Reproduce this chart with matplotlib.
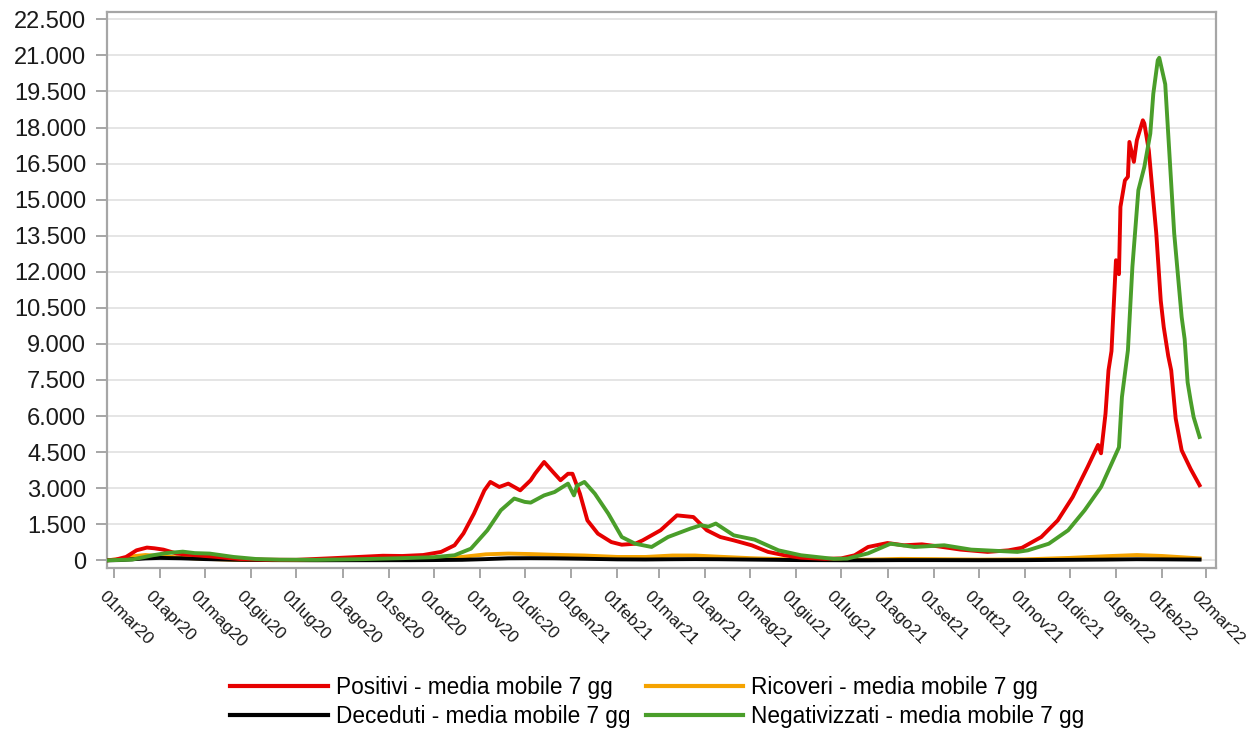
import matplotlib
matplotlib.use("Agg")
import matplotlib.pyplot as plt
import matplotlib.ticker as mticker
from matplotlib.lines import Line2D
from matplotlib.transforms import ScaledTranslation
import pandas as pd

# Positivi - media mobile 7 gg
date_positivi = [
    "2020-02-25", "2020-03-02", "2020-03-09", "2020-03-16", "2020-03-23", "2020-03-28",
    "2020-04-03", "2020-04-12", "2020-04-20", "2020-04-27", "2020-05-09", "2020-05-24",
    "2020-06-10", "2020-07-01", "2020-07-26", "2020-08-15", "2020-08-28", "2020-09-10",
    "2020-09-24", "2020-10-06", "2020-10-15", "2020-10-21", "2020-10-28", "2020-11-04",
    "2020-11-08", "2020-11-14", "2020-11-20", "2020-11-28", "2020-12-05", "2020-12-08",
    "2020-12-14", "2020-12-20", "2020-12-25", "2020-12-30", "2021-01-02", "2021-01-07",
    "2021-01-12", "2021-01-19", "2021-01-28", "2021-02-04", "2021-02-13", "2021-02-18",
    "2021-03-02", "2021-03-13", "2021-03-24", "2021-04-02", "2021-04-11", "2021-04-20",
    "2021-05-02", "2021-05-13", "2021-05-24", "2021-06-04", "2021-06-20", "2021-07-01",
    "2021-07-10", "2021-07-19", "2021-08-01", "2021-08-12", "2021-08-24", "2021-09-04",
    "2021-09-19", "2021-10-07", "2021-10-21", "2021-10-30", "2021-11-12", "2021-11-23",
    "2021-12-03", "2021-12-13", "2021-12-20", "2021-12-22", "2021-12-25", "2021-12-27",
    "2021-12-29", "2022-01-01", "2022-01-03", "2022-01-04", "2022-01-07", "2022-01-09",
    "2022-01-10", "2022-01-13", "2022-01-15", "2022-01-19", "2022-01-20", "2022-01-23",
    "2022-01-26", "2022-01-28", "2022-01-31", "2022-02-02", "2022-02-05", "2022-02-07",
    "2022-02-10", "2022-02-14", "2022-02-20", "2022-02-26",
]
positivi = [
    0, 30, 140, 415, 530, 500,
    445, 280, 230, 200, 140, 55,
    25, 20, 90, 150, 190, 180,
    220, 350, 625, 1120, 1940, 2910,
    3260, 3050, 3190, 2910, 3330, 3610,
    4090, 3670, 3330, 3600, 3600, 2770,
    1660, 1110, 760, 650, 690, 830,
    1250, 1870, 1800, 1250, 970, 830,
    625, 350, 210, 110, 60, 80,
    210, 555, 720, 625, 665, 580,
    445, 350, 415, 520, 970, 1660,
    2630, 3880, 4800, 4450, 6100, 7900,
    8700, 12480, 11900, 14700, 15800, 15950,
    17400, 16570, 17470, 18300, 18170, 17050,
    14970, 13600, 10800, 9700, 8500, 7900,
    5900, 4575, 3800, 3120,
]

# Negativizzati - media mobile 7 gg
date_negativizzati = [
    "2020-02-25", "2020-03-13", "2020-03-20", "2020-03-27", "2020-04-05", "2020-04-16",
    "2020-04-24", "2020-05-04", "2020-05-20", "2020-06-04", "2020-06-20", "2020-07-15",
    "2020-08-15", "2020-09-10", "2020-10-01", "2020-10-15", "2020-10-26", "2020-11-06",
    "2020-11-15", "2020-11-24", "2020-12-01", "2020-12-05", "2020-12-14", "2020-12-21",
    "2020-12-30", "2021-01-03", "2021-01-05", "2021-01-10", "2021-01-17", "2021-01-26",
    "2021-02-04", "2021-02-13", "2021-02-24", "2021-03-07", "2021-03-22", "2021-03-29",
    "2021-04-03", "2021-04-08", "2021-04-20", "2021-05-04", "2021-05-20", "2021-06-04",
    "2021-06-26", "2021-07-05", "2021-07-19", "2021-08-03", "2021-08-19", "2021-09-08",
    "2021-09-26", "2021-10-14", "2021-10-27", "2021-11-03", "2021-11-17", "2021-11-30",
    "2021-12-11", "2021-12-22", "2022-01-03", "2022-01-05", "2022-01-09", "2022-01-12",
    "2022-01-16", "2022-01-20", "2022-01-24", "2022-01-26", "2022-01-29", "2022-01-30",
    "2022-02-03", "2022-02-09", "2022-02-14", "2022-02-16", "2022-02-18", "2022-02-20",
    "2022-02-22", "2022-02-26",
]
negativizzati = [
    0, 30, 120, 210, 300, 360,
    300, 280, 140, 55, 25, 20,
    50, 90, 130, 210, 485, 1250,
    2080, 2570, 2430, 2400, 2700, 2840,
    3190, 2700, 3100, 3260, 2770, 1940,
    970, 690, 555, 970, 1320, 1460,
    1400, 1530, 1040, 860, 415, 210,
    60, 70, 290, 690, 555, 625,
    445, 390, 350, 415, 690, 1250,
    2080, 3050, 4700, 6790, 8730, 12200,
    15390, 16360, 17750, 19400, 20800, 20900,
    19800, 13600, 10120, 9200, 7400, 6650,
    5960, 5130,
]

# Ricoveri e Deceduti - media mobile 7 gg
date_bassi = [
    "2020-02-25", "2020-03-05", "2020-03-15", "2020-03-22", "2020-04-01", "2020-04-15",
    "2020-05-01", "2020-05-20", "2020-06-15", "2020-07-15", "2020-08-15", "2020-09-15",
    "2020-10-01", "2020-10-20", "2020-11-05", "2020-11-20", "2020-12-05", "2020-12-20",
    "2021-01-10", "2021-02-01", "2021-02-20", "2021-03-10", "2021-03-25", "2021-04-10",
    "2021-05-01", "2021-06-01", "2021-07-01", "2021-07-20", "2021-08-10", "2021-09-01",
    "2021-10-01", "2021-11-01", "2021-12-01", "2021-12-25", "2022-01-15", "2022-02-01",
    "2022-02-26",
]
ricoveri = [
    0, 50, 180, 220, 180, 110,
    60, 25, 10, 8, 15, 30,
    50, 140, 250, 280, 260, 230,
    200, 140, 140, 200, 200, 150,
    90, 30, 15, 30, 60, 50,
    30, 40, 100, 170, 220, 180,
    80,
]
deceduti = [
    0, 10, 50, 80, 100, 85,
    50, 25, 8, 3, 4, 5,
    10, 20, 50, 85, 90, 85,
    65, 40, 35, 45, 50, 45,
    30, 10, 3, 3, 8, 8,
    5, 8, 20, 30, 45, 40,
    30,
]

tick_date = [
    "2020-03-01", "2020-04-01", "2020-05-01", "2020-06-01", "2020-07-01", "2020-08-01",
    "2020-09-01", "2020-10-01", "2020-11-01", "2020-12-01", "2021-01-01", "2021-02-01",
    "2021-03-01", "2021-04-01", "2021-05-01", "2021-06-01", "2021-07-01", "2021-08-01",
    "2021-09-01", "2021-10-01", "2021-11-01", "2021-12-01", "2022-01-01", "2022-02-01",
    "2022-03-02",
]
tick_label = [
    "01mar20", "01apr20", "01mag20", "01giu20", "01lug20", "01ago20",
    "01set20", "01ott20", "01nov20", "01dic20", "01gen21", "01feb21",
    "01mar21", "01apr21", "01mag21", "01giu21", "01lug21", "01ago21",
    "01set21", "01ott21", "01nov21", "01dic21", "01gen22", "01feb22",
    "02mar22",
]

plt.rcParams['font.family'] = ['Liberation Sans', 'DejaVu Sans']

fig = plt.figure(figsize=(12.5, 7.32), dpi=100)
ax = fig.add_axes([0.0856, 0.2236, 0.8872, 0.7604])

c_pos, c_ric, c_dec, c_neg = '#e60000', '#f5a300', '#000000', '#4a9e2a'
lw = 2.8

ax.plot(pd.to_datetime(date_bassi), ricoveri, color=c_ric, lw=lw, zorder=2)
ax.plot(pd.to_datetime(date_bassi), deceduti, color=c_dec, lw=lw, zorder=3)
ax.plot(pd.to_datetime(date_positivi), positivi, color=c_pos, lw=lw, zorder=4)
ax.plot(pd.to_datetime(date_negativizzati), negativizzati, color=c_neg, lw=lw, zorder=5)

# assi
ax.set_ylim(-333, 22816)
ax.set_xlim(pd.Timestamp("2020-02-25 06:00"), pd.Timestamp("2022-03-09"))
ax.set_yticks(range(0, 22501, 1500))
ax.yaxis.set_major_formatter(mticker.FuncFormatter(lambda v, p: f"{int(v):,}".replace(',', '.')))
ax.set_xticks(pd.to_datetime(tick_date))
ax.set_xticklabels([])

# etichette date ruotate, spostate un po' a sinistra come nell'originale
sposta = ScaledTranslation(-0.07, -0.205, fig.dpi_scale_trans)
for d, lab in zip(pd.to_datetime(tick_date), tick_label):
    ax.text(d, 0, lab, transform=ax.get_xaxis_transform() + sposta,
            rotation=-45, ha='left', va='top', rotation_mode='anchor',
            fontsize=12.5, color='#1a1a1a', clip_on=False)

ax.grid(axis='y', color='#e3e3e3', lw=1.3)
ax.set_axisbelow(True)
for s in ax.spines.values():
    s.set_color('#a6a6a6')
    s.set_linewidth(1.6)
ax.tick_params(axis='y', colors='#a6a6a6', labelcolor='#1a1a1a', labelsize=17, length=8, width=1.4, pad=7)
ax.tick_params(axis='x', colors='#a6a6a6', length=7, width=1.4)

# legenda (ordine per colonne)
handles = [
    Line2D([], [], color=c_pos, lw=3),
    Line2D([], [], color=c_dec, lw=3),
    Line2D([], [], color=c_ric, lw=3),
    Line2D([], [], color=c_neg, lw=3),
]
labels = [
    "Positivi - media mobile 7 gg",
    "Deceduti - media mobile 7 gg",
    "Ricoveri - media mobile 7 gg",
    "Negativizzati - media mobile 7 gg",
]
fig.legend(handles, labels, loc='center', bbox_to_anchor=(0.526, 0.041), ncol=2,
           frameon=False, fontsize=16.3, handlelength=4.3, handletextpad=0.35,
           columnspacing=0.7, labelspacing=0.3, borderpad=0)

fig.savefig("out.png", dpi=100)
